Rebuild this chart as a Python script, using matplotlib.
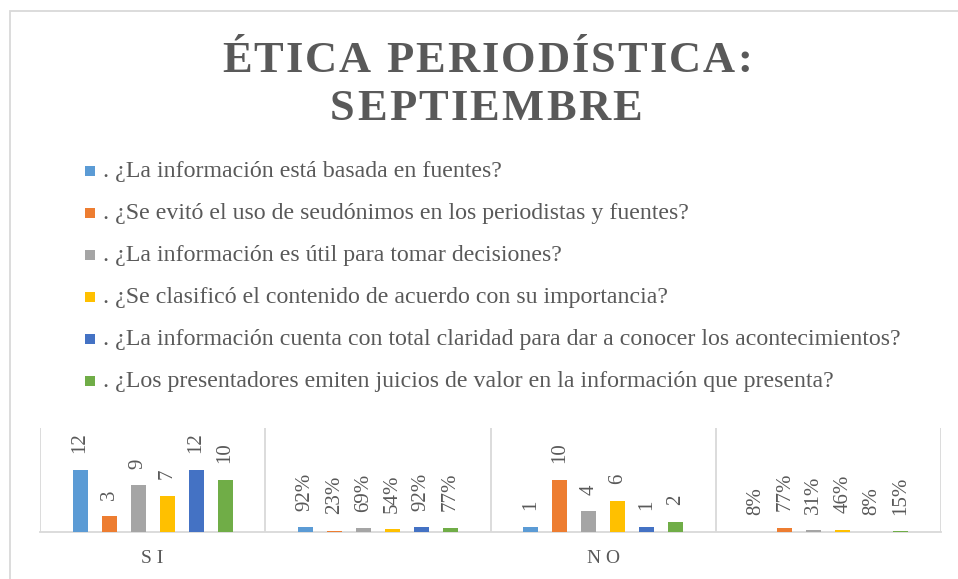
import matplotlib
matplotlib.use('Agg')
import matplotlib.pyplot as plt
import numpy as np
from matplotlib.patches import Rectangle
from matplotlib.font_manager import FontProperties

# datos del gráfico
categories = ['S I', '', 'N O', '']
series_names = [
    '. ¿La información está basada en fuentes?',
    '. ¿Se evitó el uso de seudónimos en los periodistas y fuentes?',
    '. ¿La información es útil para tomar decisiones?',
    '. ¿Se clasificó el contenido de acuerdo con su importancia?',
    '. ¿La información cuenta con total claridad para dar a conocer los acontecimientos?',
    '. ¿Los presentadores emiten juicios de valor en la información que presenta?',
]
# [SI, SI %, NO, NO %]
fuentes = [12, 0.92, 1, 0.08]
seudonimos = [3, 0.23, 10, 0.77]
utilidad = [9, 0.69, 4, 0.31]
clasificacion = [7, 0.54, 6, 0.46]
claridad = [12, 0.92, 1, 0.08]
juicios = [10, 0.77, 2, 0.15]
series_values = [fuentes, seudonimos, utilidad, clasificacion, claridad, juicios]
colors = ['#5B9BD5', '#ED7D31', '#A5A5A5', '#FFC000', '#4472C4', '#70AD47']

W, H = 958, 579
GRAY_TXT = '#595959'
GRID = '#D9D9D9'
SERIF = ['Liberation Serif', 'DejaVu Serif']
plt.rcParams['font.family'] = SERIF


def px(x, y):
    """pixeles (desde arriba a la izquierda) -> fracción de figura"""
    return x / W, 1 - y / H


def spaced_text(fig, cx, baseline, s, target_w, fp, color):
    """texto centrado, con espaciado entre letras para ocupar target_w pixeles"""
    r = fig.canvas.get_renderer()
    widths = []
    for ch in s:
        if ch == ' ':
            widths.append(0.25 * fp.get_size_in_points() * fig.dpi / 72)
        else:
            w, h, d = r.get_text_width_height_descent(ch, fp, ismath=False)
            widths.append(w)
    spacing = (target_w - sum(widths)) / (len(s) - 1)
    x = cx - target_w / 2
    for ch, w in zip(s, widths):
        fx, fy = px(x, baseline)
        fig.text(fx, fy, ch, fontproperties=fp, ha='left', va='baseline', color=color)
        x += w + spacing


fig = plt.figure(figsize=(W / 100, H / 100), dpi=100)

# marco del gráfico
fig.patches.append(Rectangle(px(10, 600), (W + 20) / W, 589 / H, transform=fig.transFigure,
                             fill=False, edgecolor=GRID, linewidth=1.3))

# título
title_fp = FontProperties(family=SERIF, weight='bold', size=32)
spaced_text(fig, 487, 72, 'ÉTICA PERIODÍSTICA:', 530, title_fp, GRAY_TXT)
spaced_text(fig, 486, 120, 'SEPTIEMBRE', 312, title_fp, GRAY_TXT)

# leyenda
for i, (name, col) in enumerate(zip(series_names, colors)):
    base = 177 + 42 * i
    fig.patches.append(Rectangle(px(85, base - 1), 10 / W, 10 / H, transform=fig.transFigure,
                                 facecolor=col, edgecolor='none'))
    fx, fy = px(103, base)
    fig.text(fx, fy, name, fontsize=17.2, color=GRAY_TXT, ha='left', va='baseline')

# barras
left, right, top, bottom = 40, 941, 428, 532
ax = fig.add_axes([left / W, 1 - bottom / H, (right - left) / W, (bottom - top) / H])
x = np.arange(len(categories))
pitch = 29 / ((right - left) / len(categories))
width = 15 / ((right - left) / len(categories))
for i, (vals, col) in enumerate(zip(series_values, colors)):
    bars = ax.bar(x + (i - 2.5) * pitch, vals, width, color=col, zorder=3)
    labels = [f'{v:.0%}' if j % 2 else f'{v:g}' for j, v in enumerate(vals)]
    ax.bar_label(bars, labels=labels, rotation=90, padding=12, fontsize=15, color=GRAY_TXT)

ax.set_xlim(-0.5, len(categories) - 0.5)
ax.set_ylim(0, 20)
ax.set_yticks([])
ax.set_xticks(x)
ax.set_xticklabels(categories, fontsize=14, color=GRAY_TXT)
ax.tick_params(axis='x', length=0, pad=13)
for b in np.arange(-0.5, len(categories), 1.0):
    ax.axvline(b, color=GRID, linewidth=1.3, zorder=1)
for s in ['top', 'right', 'left']:
    ax.spines[s].set_visible(False)
ax.spines['bottom'].set_color(GRID)
ax.spines['bottom'].set_linewidth(1.3)

plt.savefig('out.png', dpi=100)
